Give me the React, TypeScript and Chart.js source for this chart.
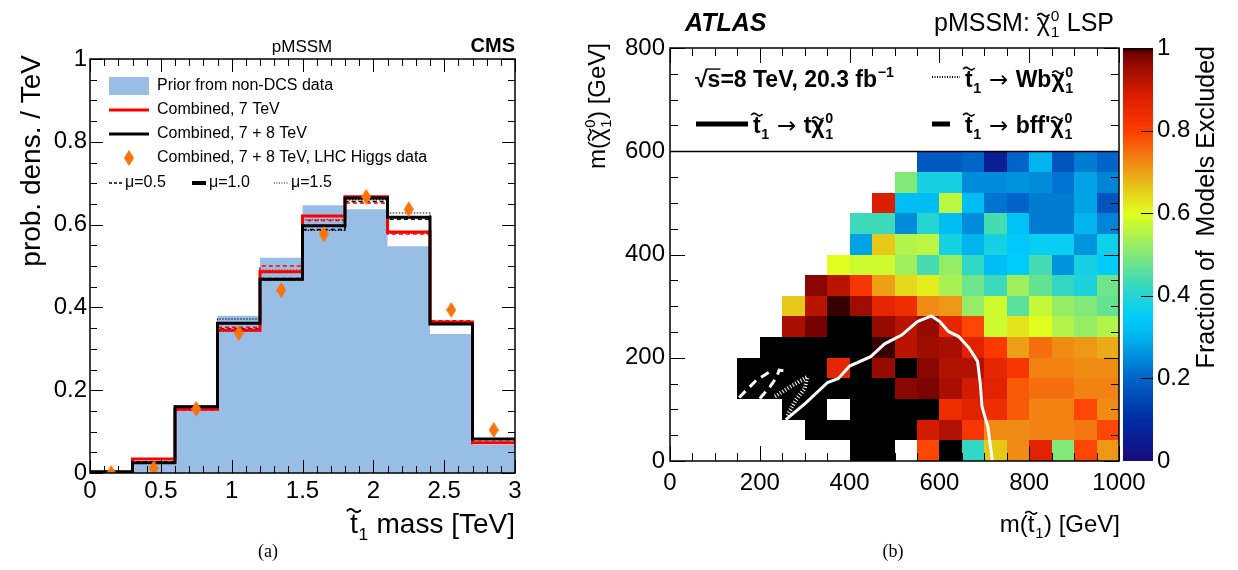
import React, { useEffect, useRef } from "react";
import { Chart, registerables } from "chart.js";

Chart.register(...registerables);

const SANS = '"Liberation Sans", Arial, Helvetica, sans-serif';
const SERIF = '"Liberation Serif", "Times New Roman", serif';
const ARROW_FONT = '"DejaVu Sans", sans-serif';

/* ---------- (a) stop mass probability densities, 0.3 TeV bins ---------- */
const massBinEdges = [0, 0.3, 0.6, 0.9, 1.2, 1.5, 1.8, 2.1, 2.4, 2.7, 3.0];
const massBinCenters = [0.15, 0.45, 0.75, 1.05, 1.35, 1.65, 1.95, 2.25, 2.55, 2.85];
const priorNonDCS = [0, 0.025, 0.155, 0.38, 0.52, 0.647, 0.637, 0.548, 0.336, 0.068];
const combined7 = [0.002, 0.034, 0.154, 0.345, 0.486, 0.621, 0.667, 0.582, 0.365, 0.073];
const combined7Mu05 = [0.002, 0.033, 0.152, 0.352, 0.5, 0.61, 0.652, 0.577, 0.368, 0.074];
const combined7Mu15 = [0.002, 0.035, 0.156, 0.342, 0.49, 0.612, 0.66, 0.579, 0.366, 0.072];
const combined78 = [0.003, 0.025, 0.16, 0.362, 0.468, 0.597, 0.664, 0.618, 0.36, 0.082];
const combined78Mu05 = [0.003, 0.027, 0.158, 0.348, 0.47, 0.588, 0.656, 0.613, 0.362, 0.081];
const combined78Mu15 = [0.003, 0.026, 0.162, 0.372, 0.465, 0.586, 0.66, 0.628, 0.366, 0.083];
const higgsCombined = [0.0, 0.012, 0.155, 0.338, 0.442, 0.577, 0.667, 0.637, 0.394, 0.104];

/* ---------- (b) fraction of pMSSM models excluded ---------- */
const stopBinWidth = 50; // GeV, m(stop)
const lspBinWidth = 40; // GeV, m(neutralino)
const _ = null;
// one row per 40 GeV neutralino-mass slice (lowest first), 20 stop-mass columns of 50 GeV
const fractionExcluded: (number | null)[][] = [
  [_, _, _, _, _, _, _, _, 1, 1, _, 0.79, 1, 0.42, 0.66, 0.72, 0.87, 0.5, 0.79, 0.71],
  [_, _, _, _, _, _, 1, 1, 1, 1, 1, 0.89, 0.93, 0.82, 0.72, 0.72, 0.73, 0.73, 0.74, 0.79],
  [_, _, _, _, _, 1, 1, _, 1, 1, 1, 1, 0.84, 0.87, 0.84, 0.77, 0.73, 0.73, 0.79, 0.72],
  [_, _, _, 1, 1, 1, 1, 1, 1, 1, 0.97, 0.98, 0.94, 0.89, 0.87, 0.77, 0.75, 0.75, 0.73, 0.73],
  [_, _, _, 1, 1, 1, 1, 0.86, 1, 0.96, 1, 0.97, 0.93, 0.93, 0.86, 0.82, 0.73, 0.73, 0.72, 0.72],
  [_, _, _, _, 1, 1, 1, 1, 1, 0.995, 0.92, 0.95, 0.94, 0.87, 0.81, 0.7, 0.75, 0.72, 0.71, 0.69],
  [_, _, _, _, _, 0.94, 0.985, 1, 1, 0.96, 0.92, 0.96, 0.86, 0.79, 0.58, 0.63, 0.6, 0.55, 0.52, 0.55],
  [_, _, _, _, _, 0.66, 0.92, 0.995, 0.95, 0.86, 0.84, 0.72, 0.71, 0.52, 0.58, 0.46, 0.57, 0.52, 0.5, 0.47],
  [_, _, _, _, _, _, 0.97, 0.92, 0.82, 0.7, 0.64, 0.62, 0.54, 0.48, 0.43, 0.53, 0.47, 0.42, 0.39, 0.48],
  [_, _, _, _, _, _, _, 0.6, 0.58, 0.58, 0.53, 0.44, 0.52, 0.42, 0.32, 0.35, 0.44, 0.26, 0.38, 0.35],
  [_, _, _, _, _, _, _, _, 0.28, 0.66, 0.55, 0.56, 0.38, 0.3, 0.38, 0.34, 0.36, 0.36, 0.26, 0.37],
  [_, _, _, _, _, _, _, _, 0.43, 0.43, 0.25, 0.4, 0.32, 0.25, 0.44, 0.33, 0.23, 0.23, 0.3, 0.24],
  [_, _, _, _, _, _, _, _, _, 0.88, 0.32, 0.32, 0.56, 0.32, 0.22, 0.2, 0.23, 0.23, 0.28, 0.17],
  [_, _, _, _, _, _, _, _, _, _, 0.5, 0.38, 0.38, 0.25, 0.25, 0.26, 0.25, 0.22, 0.28, 0.24],
  [_, _, _, _, _, _, _, _, _, _, _, 0.18, 0.18, 0.2, 0.06, 0.2, 0.3, 0.17, 0.23, 0.2],
];

// exclusion contours (GeV)
const topContourX = [258, 302, 351, 375, 400, 447, 478, 516, 551, 582, 601, 620, 643, 666, 685, 691, 695, 708, 716, 718];
const topContourY = [80, 112, 152, 160, 184, 202, 227, 244, 270, 281, 270, 251, 241, 219, 193, 150, 105, 66, 14, 0];
const wbContourX = [234, 270, 306, 300, 280, 260];
const wbContourY = [125, 145, 163, 140, 118, 86];
const bffOuterX = [154, 193, 226];
const bffOuterY = [123, 157, 175];
const bffInnerX = [200, 223, 238, 243, 262];
const bffInnerY = [121, 144, 163, 176, 174];

// colour palette for the fraction axis
const paletteStops: number[][] = [
  [0.0, 25, 10, 125],
  [0.1, 0, 45, 165],
  [0.2, 0, 100, 200],
  [0.3, 0, 180, 238],
  [0.35, 0, 205, 250],
  [0.42, 50, 215, 195],
  [0.5, 130, 232, 120],
  [0.6, 225, 255, 30],
  [0.66, 230, 200, 25],
  [0.72, 240, 140, 20],
  [0.8, 255, 60, 0],
  [0.88, 220, 30, 0],
  [0.96, 150, 10, 0],
  [0.99, 110, 0, 0],
  [1.0, 0, 0, 0],
];

function fractionColor(v: number): string {
  const t = Math.max(0, Math.min(1, v));
  for (let i = 1; i < paletteStops.length; i++) {
    const a = paletteStops[i - 1];
    const b = paletteStops[i];
    if (t <= b[0]) {
      const f = (t - a[0]) / (b[0] - a[0] || 1);
      const c = [1, 2, 3].map((k) => Math.round(a[k] + (b[k] - a[k]) * f));
      return `rgb(${c[0]},${c[1]},${c[2]})`;
    }
  }
  return "rgb(0,0,0)";
}

const PRIOR_BLUE = "#99bee6";
const HIGGS_ORANGE = "#f9730b";

/* ---------- text helpers ---------- */
type Seg = { t: string; tilde?: number; sub?: string; sup?: string; over?: boolean; family?: string; light?: boolean };

function fontStr(size: number, bold: boolean, italic = false, family = SANS) {
  return `${italic ? "italic " : ""}${bold ? "bold " : ""}${size}px ${family}`;
}

function segFont(s: Seg, size: number, bold: boolean) {
  return fontStr(size, bold && !s.light, false, s.family || SANS);
}

function segWidth(ctx: CanvasRenderingContext2D, s: Seg, size: number, bold: boolean) {
  ctx.font = segFont(s, size, bold);
  let w = ctx.measureText(s.t).width;
  if (s.sub || s.sup) {
    ctx.font = fontStr(size * 0.62, bold);
    w += Math.max(s.sub ? ctx.measureText(s.sub).width : 0, s.sup ? ctx.measureText(s.sup).width : 0) + size * 0.05;
  }
  return w;
}

function drawTilde(ctx: CanvasRenderingContext2D, cx: number, cy: number, w: number, size: number) {
  ctx.save();
  ctx.lineWidth = Math.max(1.2, size * 0.07);
  ctx.lineCap = "round";
  ctx.beginPath();
  const n = 14;
  const amp = size * 0.055;
  for (let i = 0; i <= n; i++) {
    const f = i / n;
    const px = cx - w / 2 + w * f;
    const py = cy - amp * Math.sin(2 * Math.PI * f);
    if (i === 0) ctx.moveTo(px, py);
    else ctx.lineTo(px, py);
  }
  ctx.strokeStyle = ctx.fillStyle as string;
  ctx.stroke();
  ctx.restore();
}

function drawRich(
  ctx: CanvasRenderingContext2D,
  segs: Seg[],
  x: number,
  y: number,
  size: number,
  bold: boolean,
  align: "left" | "right" | "center" = "left"
) {
  const total = segs.reduce((acc, s) => acc + segWidth(ctx, s, size, bold), 0);
  let cx = align === "left" ? x : align === "right" ? x - total : x - total / 2;
  ctx.textAlign = "left";
  ctx.textBaseline = "alphabetic";
  for (const s of segs) {
    ctx.font = segFont(s, size, bold);
    const mw = ctx.measureText(s.t).width;
    ctx.fillText(s.t, cx, y);
    if (s.tilde) drawTilde(ctx, cx + mw / 2, y - s.tilde * size, size * 0.46, size);
    if (s.over) {
      ctx.save();
      ctx.strokeStyle = ctx.fillStyle as string;
      ctx.lineWidth = Math.max(1, size * 0.06);
      ctx.beginPath();
      ctx.moveTo(cx - size * 0.05, y - size * 0.78);
      ctx.lineTo(cx + mw, y - size * 0.78);
      ctx.stroke();
      ctx.restore();
    }
    cx += mw;
    if (s.sub || s.sup) {
      ctx.font = fontStr(size * 0.62, bold);
      const sx = cx + size * 0.03;
      if (s.sub) ctx.fillText(s.sub, sx, y + size * 0.24);
      if (s.sup) ctx.fillText(s.sup, sx, y - size * 0.42);
      cx += Math.max(s.sub ? ctx.measureText(s.sub).width : 0, s.sup ? ctx.measureText(s.sup).width : 0) + size * 0.05;
    }
  }
}

function drawRootFrame(chart: any, xMinor: number, xMajor: number, yMinor: number, yMajor: number, majLen: number, minLen: number) {
  const { ctx, chartArea: a } = chart;
  const xs = chart.scales.x;
  const ys = chart.scales.y;
  ctx.save();
  ctx.strokeStyle = "#000";
  ctx.lineWidth = 1;
  const isMajor = (v: number, step: number) => Math.abs(v / step - Math.round(v / step)) < 1e-6;
  const nx = Math.round((xs.max - xs.min) / xMinor);
  for (let k = 0; k <= nx; k++) {
    const v = xs.min + k * xMinor;
    const L = isMajor(v, xMajor) ? majLen : minLen;
    const px = Math.round(xs.getPixelForValue(v)) + 0.5;
    ctx.beginPath();
    ctx.moveTo(px, a.bottom);
    ctx.lineTo(px, a.bottom - L);
    ctx.moveTo(px, a.top);
    ctx.lineTo(px, a.top + L);
    ctx.stroke();
  }
  const ny = Math.round((ys.max - ys.min) / yMinor);
  for (let k = 0; k <= ny; k++) {
    const v = ys.min + k * yMinor;
    const L = isMajor(v, yMajor) ? majLen : minLen;
    const py = Math.round(ys.getPixelForValue(v)) + 0.5;
    ctx.beginPath();
    ctx.moveTo(a.left, py);
    ctx.lineTo(a.left + L, py);
    ctx.moveTo(a.right, py);
    ctx.lineTo(a.right - L, py);
    ctx.stroke();
  }
  ctx.lineWidth = 1.5;
  ctx.strokeRect(a.left, a.top, a.right - a.left, a.bottom - a.top);
  ctx.restore();
}

function rotated(ctx: CanvasRenderingContext2D, x: number, y: number, fn: () => void) {
  ctx.save();
  ctx.translate(x, y);
  ctx.rotate(-Math.PI / 2);
  fn();
  ctx.restore();
}

function makeDiamond(w: number, h: number, color: string) {
  const c = document.createElement("canvas");
  c.width = w;
  c.height = h;
  const g = c.getContext("2d")!;
  g.fillStyle = color;
  g.beginPath();
  g.moveTo(w / 2, 0);
  g.lineTo(w, h / 2);
  g.lineTo(w / 2, h);
  g.lineTo(0, h / 2);
  g.closePath();
  g.fill();
  return c;
}

const histSteps = (vals: number[]) =>
  massBinEdges.map((e, i) => ({ x: e, y: vals[Math.min(i, vals.length - 1)] }));

const zipXY = (xs: number[], ys: number[]) => xs.map((x, i) => ({ x, y: ys[i] }));

const tickFont = (size: number) => ({ family: SANS, size });

/* ---------- panel (a) ---------- */
function massConfig(): any {
  const diamond = makeDiamond(10, 16, HIGGS_ORANGE);
  const line = (data: number[], color: string, width: number, dash: number[], order: number) => ({
    data: histSteps(data),
    stepped: true,
    borderColor: color,
    borderWidth: width,
    borderDash: dash,
    pointRadius: 0,
    fill: false,
    order,
  });
  const decor = {
    id: "massDecor",
    afterDraw(chart: any) {
      const ctx: CanvasRenderingContext2D = chart.ctx;
      drawRootFrame(chart, 0.1, 0.5, 0.05, 0.2, 13, 7);
      ctx.save();
      ctx.fillStyle = "#000";
      ctx.textBaseline = "alphabetic";
      ctx.font = fontStr(17, false);
      ctx.textAlign = "center";
      ctx.fillText("pMSSM", 302, 52);
      ctx.font = fontStr(20, true);
      ctx.textAlign = "right";
      ctx.fillText("CMS", 515, 52);

      // legend
      ctx.fillStyle = PRIOR_BLUE;
      ctx.fillRect(109, 77, 40, 18);
      ctx.fillStyle = "#000";
      ctx.font = fontStr(16, false);
      ctx.textAlign = "left";
      ctx.textBaseline = "middle";
      ctx.fillText("Prior from non-DCS data", 157, 86);
      ctx.fillText("Combined, 7 TeV", 157, 110);
      ctx.fillText("Combined, 7 + 8 TeV", 157, 134);
      ctx.fillText("Combined, 7 + 8 TeV, LHC Higgs data", 157, 158);
      ctx.fillText("\u03bc=0.5", 125, 183);
      ctx.fillText("\u03bc=1.0", 209, 183);
      ctx.fillText("\u03bc=1.5", 291, 183);
      const seg = (x0: number, x1: number, y: number, color: string, w: number, dash: number[]) => {
        ctx.save();
        ctx.strokeStyle = color;
        ctx.lineWidth = w;
        ctx.setLineDash(dash);
        ctx.beginPath();
        ctx.moveTo(x0, y);
        ctx.lineTo(x1, y);
        ctx.stroke();
        ctx.restore();
      };
      seg(109, 149, 110, "#ff0000", 3, []);
      seg(109, 149, 134, "#000", 3, []);
      ctx.drawImage(diamond, 129 - 5, 158 - 8);
      seg(109, 123, 183, "#000", 1.5, [3, 2]);
      seg(192, 206, 183, "#000", 4, []);
      seg(274, 289, 183, "#000", 1, [1, 1.5]);

      // axis titles
      ctx.fillStyle = "#000";
      drawRich(ctx, [{ t: "t", tilde: 0.8, sub: "1" }, { t: " mass [TeV]" }], 515, 533, 28, false, "right");
      rotated(ctx, 40, 55, () => {
        ctx.font = fontStr(28, false);
        ctx.textAlign = "right";
        ctx.textBaseline = "alphabetic";
        ctx.fillText("prob. dens. / TeV", 0, 0);
      });
      ctx.font = `18px ${SERIF}`;
      ctx.textAlign = "center";
      ctx.textBaseline = "alphabetic";
      ctx.fillText("(a)", 268, 557);
      ctx.restore();
    },
  };
  return {
    type: "line",
    data: {
      datasets: [
        {
          label: "Prior from non-DCS data",
          data: histSteps(priorNonDCS),
          stepped: true,
          fill: "origin",
          backgroundColor: PRIOR_BLUE,
          borderColor: "rgba(0,0,0,0)",
          borderWidth: 0,
          pointRadius: 0,
          order: 10,
        },
        line(combined7Mu05, "#ff0000", 1.5, [4, 3], 6),
        line(combined7Mu15, "#ff0000", 1.2, [1.5, 1.5], 6),
        line(combined78Mu05, "#000", 1.5, [4, 3], 5),
        line(combined78Mu15, "#000", 1.2, [1.5, 1.5], 5),
        { ...line(combined7, "#ff0000", 3, [], 3), label: "Combined, 7 TeV" },
        { ...line(combined78, "#000", 3, [], 2), label: "Combined, 7 + 8 TeV" },
        {
          label: "Combined, 7 + 8 TeV, LHC Higgs data",
          data: massBinCenters.map((x, i) => ({ x, y: higgsCombined[i] })),
          showLine: false,
          pointStyle: diamond,
          pointRadius: 6,
          order: 0,
        },
      ],
    },
    options: {
      responsive: false,
      animation: false,
      events: [],
      layout: { padding: { left: 0, top: 59, right: 1238 - 515, bottom: 0 } },
      plugins: { legend: { display: false }, tooltip: { enabled: false } },
      scales: {
        x: {
          type: "linear",
          min: 0,
          max: 3,
          afterFit: (s: any) => {
            s.height = 570 - 473;
          },
          grid: { display: false, drawTicks: false },
          border: { display: false },
          ticks: {
            stepSize: 0.5,
            autoSkip: false,
            maxRotation: 0,
            padding: 4,
            color: "#000",
            font: tickFont(24),
            callback: (v: number) => String(Math.round(v * 10) / 10),
          },
        },
        y: {
          type: "linear",
          min: 0,
          max: 1,
          afterFit: (s: any) => {
            s.width = 90;
          },
          grid: { display: false, drawTicks: false },
          border: { display: false },
          ticks: {
            stepSize: 0.2,
            autoSkip: false,
            padding: 3,
            color: "#000",
            font: tickFont(24),
            callback: (v: number) => String(Math.round(v * 10) / 10),
          },
        },
      },
    },
    plugins: [decor],
  };
}

/* ---------- panel (b) ---------- */
function exclusionConfig(): any {
  const cells = {
    id: "fractionCells",
    beforeDatasetsDraw(chart: any) {
      const { ctx } = chart;
      const xs = chart.scales.x;
      const ys = chart.scales.y;
      ctx.save();
      fractionExcluded.forEach((row, j) =>
        row.forEach((v, i) => {
          if (v === null) return;
          const x0 = Math.round(xs.getPixelForValue(i * stopBinWidth));
          const x1 = Math.round(xs.getPixelForValue((i + 1) * stopBinWidth));
          const y0 = Math.round(ys.getPixelForValue((j + 1) * lspBinWidth));
          const y1 = Math.round(ys.getPixelForValue(j * lspBinWidth));
          ctx.fillStyle = fractionColor(v);
          ctx.fillRect(x0, y0, x1 - x0, y1 - y0);
        })
      );
      ctx.restore();
    },
  };
  const decor = {
    id: "exclusionDecor",
    afterDraw(chart: any) {
      const ctx: CanvasRenderingContext2D = chart.ctx;
      const a = chart.chartArea;
      const ys = chart.scales.y;
      drawRootFrame(chart, 50, 200, 50, 200, 15, 8);
      ctx.save();
      // legend box edge
      const y600 = Math.round(ys.getPixelForValue(600)) + 0.5;
      ctx.strokeStyle = "#000";
      ctx.lineWidth = 1.5;
      ctx.beginPath();
      ctx.moveTo(a.left, y600);
      ctx.lineTo(a.right, y600);
      ctx.stroke();

      ctx.fillStyle = "#000";
      // header
      ctx.font = fontStr(25, true, true);
      ctx.textAlign = "left";
      ctx.textBaseline = "alphabetic";
      ctx.fillText("ATLAS", 685, 31);
      drawRich(ctx, [{ t: "pMSSM: " }, { t: "\u03c7", tilde: 0.64, sub: "1", sup: "0" }, { t: " LSP" }], 1114, 31, 25, false, "right");

      // legend
      const arrow: Seg = { t: " \u2192 ", family: ARROW_FONT, light: true };
      drawRich(ctx, [{ t: "\u221a" }, { t: "s", over: true }, { t: "=8 TeV, 20.3 fb", sup: "\u22121" }], 695, 87, 23, true);
      drawRich(ctx, [{ t: "t", tilde: 0.8, sub: "1" }, arrow, { t: "Wb" }, { t: "\u03c7", tilde: 0.64, sub: "1", sup: "0" }], 965, 87, 23, true);
      drawRich(ctx, [{ t: "t", tilde: 0.8, sub: "1" }, arrow, { t: "t" }, { t: "\u03c7", tilde: 0.64, sub: "1", sup: "0" }], 753, 133, 23, true);
      drawRich(ctx, [{ t: "t", tilde: 0.8, sub: "1" }, arrow, { t: "bff'" }, { t: "\u03c7", tilde: 0.64, sub: "1", sup: "0" }], 965, 133, 23, true);
      const seg = (x0: number, x1: number, y: number, w: number, dash: number[]) => {
        ctx.save();
        ctx.strokeStyle = "#000";
        ctx.lineWidth = w;
        ctx.setLineDash(dash);
        ctx.beginPath();
        ctx.moveTo(x0, y);
        ctx.lineTo(x1, y);
        ctx.stroke();
        ctx.restore();
      };
      seg(932, 960, 77, 2, [1, 1.5]);
      seg(696, 748, 124, 5, []);
      seg(932, 950, 124, 5, []);

      // axis titles
      drawRich(ctx, [{ t: "m(" }, { t: "t", tilde: 0.8, sub: "1" }, { t: ") [GeV]" }], 1120, 532, 24, false, "right");
      rotated(ctx, 605, 43, () => {
        drawRich(ctx, [{ t: "m(" }, { t: "\u03c7", tilde: 0.64, sub: "1", sup: "0" }, { t: ") [GeV]" }], 0, 0, 24, false, "right");
      });

      // colour scale
      const cbL = 1123;
      const cbR = 1153;
      const top = ys.getPixelForValue(800);
      const bot = ys.getPixelForValue(0);
      for (let py = Math.floor(top); py < Math.ceil(bot); py++) {
        const v = (bot - (py + 0.5)) / (bot - top);
        ctx.fillStyle = fractionColor(v);
        ctx.fillRect(cbL, py, cbR - cbL, 1);
      }
      ctx.strokeStyle = "#000";
      ctx.lineWidth = 1;
      ctx.fillStyle = "#000";
      ctx.font = fontStr(24, false);
      ctx.textAlign = "left";
      ctx.textBaseline = "middle";
      for (let k = 0; k <= 5; k++) {
        const v = k / 5;
        const py = bot - (bot - top) * v;
        if (k > 0 && k < 5) {
          ctx.beginPath();
          ctx.moveTo(cbR, Math.round(py) + 0.5);
          ctx.lineTo(cbR - 12, Math.round(py) + 0.5);
          ctx.stroke();
        }
        ctx.fillText(String(Math.round(v * 10) / 10), 1157, py);
      }
      rotated(ctx, 1214, 46, () => {
        ctx.font = fontStr(25, false);
        ctx.textAlign = "right";
        ctx.textBaseline = "alphabetic";
        ctx.fillText("Fraction of  Models Excluded", 0, 0);
      });

      ctx.font = `18px ${SERIF}`;
      ctx.textAlign = "center";
      ctx.textBaseline = "alphabetic";
      ctx.fillText("(b)", 893, 557);
      ctx.restore();
    },
  };
  const contour = (xs: number[], ys: number[], width: number, dash: number[]) => ({
    data: zipXY(xs, ys),
    borderColor: "#ffffff",
    borderWidth: width,
    borderDash: dash,
    borderCapStyle: "butt",
    pointRadius: 0,
    fill: false,
    tension: 0,
  });
  return {
    type: "line",
    data: {
      datasets: [
        { ...contour(topContourX, topContourY, 3, []), label: "t1 -> t chi" },
        { ...contour(wbContourX, wbContourY, 4, [1, 2]), label: "t1 -> Wb chi" },
        { ...contour(bffOuterX, bffOuterY, 3, [9, 6]), label: "t1 -> bff' chi" },
        { ...contour(bffInnerX, bffInnerY, 3, [9, 6]), label: "t1 -> bff' chi (inner)" },
      ],
    },
    options: {
      responsive: false,
      animation: false,
      events: [],
      layout: { padding: { left: 0, top: 48, right: 1238 - 1119, bottom: 0 } },
      plugins: { legend: { display: false }, tooltip: { enabled: false } },
      scales: {
        x: {
          type: "linear",
          min: 0,
          max: 1000,
          afterFit: (s: any) => {
            s.height = 570 - 461;
          },
          grid: { display: false, drawTicks: false },
          border: { display: false },
          ticks: {
            stepSize: 200,
            autoSkip: false,
            maxRotation: 0,
            padding: 8,
            color: "#000",
            font: tickFont(24),
            callback: (v: number) => String(v),
          },
        },
        y: {
          type: "linear",
          min: 0,
          max: 800,
          afterFit: (s: any) => {
            s.width = 670;
          },
          grid: { display: false, drawTicks: false },
          border: { display: false },
          ticks: {
            stepSize: 200,
            autoSkip: false,
            padding: 5,
            color: "#000",
            font: tickFont(24),
            callback: (v: number) => String(v),
          },
        },
      },
    },
    plugins: [cells, decor],
  };
}

export default function App() {
  const massRef = useRef<HTMLCanvasElement>(null);
  const exclRef = useRef<HTMLCanvasElement>(null);
  useEffect(() => {
    const c1 = new Chart(massRef.current!, massConfig());
    const c2 = new Chart(exclRef.current!, exclusionConfig());
    return () => {
      c1.destroy();
      c2.destroy();
    };
  }, []);
  const canvasStyle: React.CSSProperties = { position: "absolute", left: 0, top: 0, width: 1238, height: 570 };
  return (
    <div style={{ position: "fixed", left: 0, top: 0, width: 1238, height: 570, background: "#fff" }}>
      <canvas ref={massRef} width={1238} height={570} style={canvasStyle} />
      <canvas ref={exclRef} width={1238} height={570} style={canvasStyle} />
    </div>
  );
}
